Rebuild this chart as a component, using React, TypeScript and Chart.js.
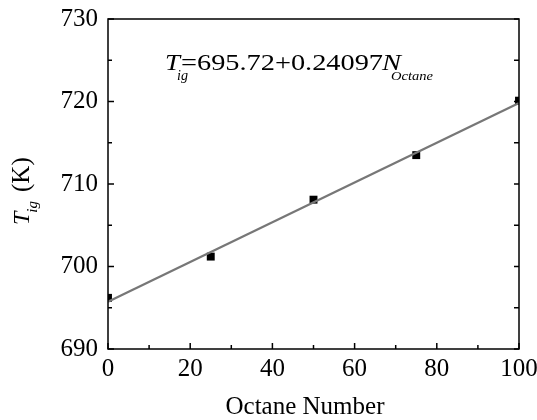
import React, { useEffect, useRef } from "react";
import { Chart, registerables } from "chart.js";

Chart.register(...registerables);

// ---- data ----
const octaneNumber = [0, 25, 50, 75, 100];
const ignitionTemp = [696.2, 701.2, 708.1, 713.5, 720.1];
const fitOctane = [0, 100];
const fitTemp = [695.72, 719.82];

const xMin = 0, xMax = 100, xStep = 20;
const yMin = 690, yMax = 730, yStep = 10;

const xTitle = "Octane Number";
const eqPrefix = "T";
const eqPrefixSub = "ig";
const eqBody = "=695.72+0.24097";
const eqVar = "N";
const eqVarSub = "Octane";
const yUnit = "(K)";

const SERIF = '"Liberation Serif", "Times New Roman", serif';

const decorPlugin = {
  id: "decor",
  afterDraw(chart: any) {
    const { ctx, chartArea: a, scales } = chart;
    const x = scales.x, y = scales.y;
    ctx.save();
    ctx.strokeStyle = "#000";
    ctx.lineWidth = 1.5;
    ctx.strokeRect(a.left, a.top, a.right - a.left, a.bottom - a.top);
    const seg = (x1: number, y1: number, x2: number, y2: number) => {
      ctx.beginPath();
      ctx.moveTo(x1, y1);
      ctx.lineTo(x2, y2);
      ctx.stroke();
    };
    // x ticks (inward, bottom)
    const xt = x.ticks.map((t: any) => t.value);
    xt.forEach((v: number, i: number) => {
      const px = x.getPixelForValue(v);
      seg(px, a.bottom, px, a.bottom - 6);
      if (i < xt.length - 1) {
        const pm = x.getPixelForValue((v + xt[i + 1]) / 2);
        seg(pm, a.bottom, pm, a.bottom - 4);
      }
    });
    // y ticks (inward, left and right)
    const yt = y.ticks.map((t: any) => t.value);
    yt.forEach((v: number, i: number) => {
      const py = y.getPixelForValue(v);
      seg(a.left, py, a.left + 6, py);
      seg(a.right, py, a.right - 5, py);
      if (i < yt.length - 1) {
        const pm = y.getPixelForValue((v + yt[i + 1]) / 2);
        seg(a.left, pm, a.left + 4, pm);
        seg(a.right, pm, a.right - 5, pm);
      }
    });

    ctx.fillStyle = "#000";
    ctx.textBaseline = "alphabetic";
    ctx.textAlign = "left";

    // x title
    ctx.font = `25px ${SERIF}`;
    ctx.textAlign = "center";
    ctx.fillText(xTitle, 305, 414);
    ctx.textAlign = "left";

    // y title rotated
    ctx.save();
    ctx.translate(29, 225);
    ctx.rotate(-Math.PI / 2);
    ctx.font = `italic 24px ${SERIF}`;
    ctx.fillText(eqPrefix, 0, 0);
    let cx = ctx.measureText(eqPrefix).width - 1;
    ctx.font = `italic 15px ${SERIF}`;
    ctx.fillText(eqPrefixSub, cx, 8);
    cx += ctx.measureText(eqPrefixSub).width + 9;
    ctx.font = `25px ${SERIF}`;
    ctx.fillText(yUnit, cx, 0);
    ctx.restore();

    // equation annotation (stretched horizontally like the reference)
    const eb = 70;
    const drawStretched = (txt: string, font: string, left: number, base: number, width: number) => {
      ctx.save();
      ctx.font = font;
      const w = ctx.measureText(txt).width;
      ctx.translate(left, base);
      ctx.scale(width / w, 1);
      ctx.fillText(txt, 0, 0);
      ctx.restore();
    };
    drawStretched(eqPrefix, `italic 23px ${SERIF}`, 165, eb, 15);
    drawStretched(eqPrefixSub, `italic 14px ${SERIF}`, 177, eb + 10, 11);
    drawStretched(eqBody, `23px ${SERIF}`, 181, eb, 202);
    drawStretched(eqVar, `italic 23px ${SERIF}`, 382, eb, 19);
    drawStretched(eqVarSub, `italic 12px ${SERIF}`, 391, eb + 10, 42);
    ctx.restore();
  },
};

const zeroPad = (s: any) => {
  s.paddingTop = 0;
  s.paddingBottom = 0;
  s.paddingLeft = 0;
  s.paddingRight = 0;
};

export default function App() {
  const ref = useRef<HTMLCanvasElement | null>(null);
  useEffect(() => {
    if (!ref.current) return;
    const chart = new Chart(ref.current, {
      type: "scatter",
      data: {
        datasets: [
          {
            type: "line",
            label: "fit",
            data: fitOctane.map((v, i) => ({ x: v, y: fitTemp[i] })),
            borderColor: "#777777",
            borderWidth: 2.2,
            pointRadius: 0,
            showLine: true,
            fill: false,
          } as any,
          {
            label: "data",
            data: octaneNumber.map((v, i) => ({ x: v, y: ignitionTemp[i] })),
            backgroundColor: "#000",
            borderColor: "#000",
            pointStyle: "rect",
            pointRadius: 5.6,
            borderWidth: 0,
          },
        ],
      },
      options: {
        responsive: false,
        animation: false,
        layout: { padding: { top: 19, right: 18, left: 0, bottom: 0 } },
        plugins: {
          legend: { display: false },
          tooltip: { enabled: false },
          title: { display: false },
        },
        scales: {
          x: {
            type: "linear",
            min: xMin,
            max: xMax,
            grid: { display: false, drawTicks: false },
            border: { display: false },
            ticks: {
              stepSize: xStep,
              color: "#000",
              padding: 5,
              maxRotation: 0,
              font: { family: SERIF, size: 25 },
            },
            afterFit: (s: any) => {
              s.height = 71;
              zeroPad(s);
            },
          },
          y: {
            type: "linear",
            min: yMin,
            max: yMax,
            grid: { display: false, drawTicks: false },
            border: { display: false },
            ticks: {
              stepSize: yStep,
              color: "#000",
              padding: 10,
              font: { family: SERIF, size: 25 },
            },
            afterFit: (s: any) => {
              s.width = 108;
              zeroPad(s);
            },
          },
        },
      },
      plugins: [decorPlugin],
    });
    return () => chart.destroy();
  }, []);
  return (
    <div style={{ position: "fixed", left: 0, top: 0, width: 537, height: 420, background: "#fff" }}>
      <canvas ref={ref} width={537} height={420} style={{ width: 537, height: 420 }} />
    </div>
  );
}
